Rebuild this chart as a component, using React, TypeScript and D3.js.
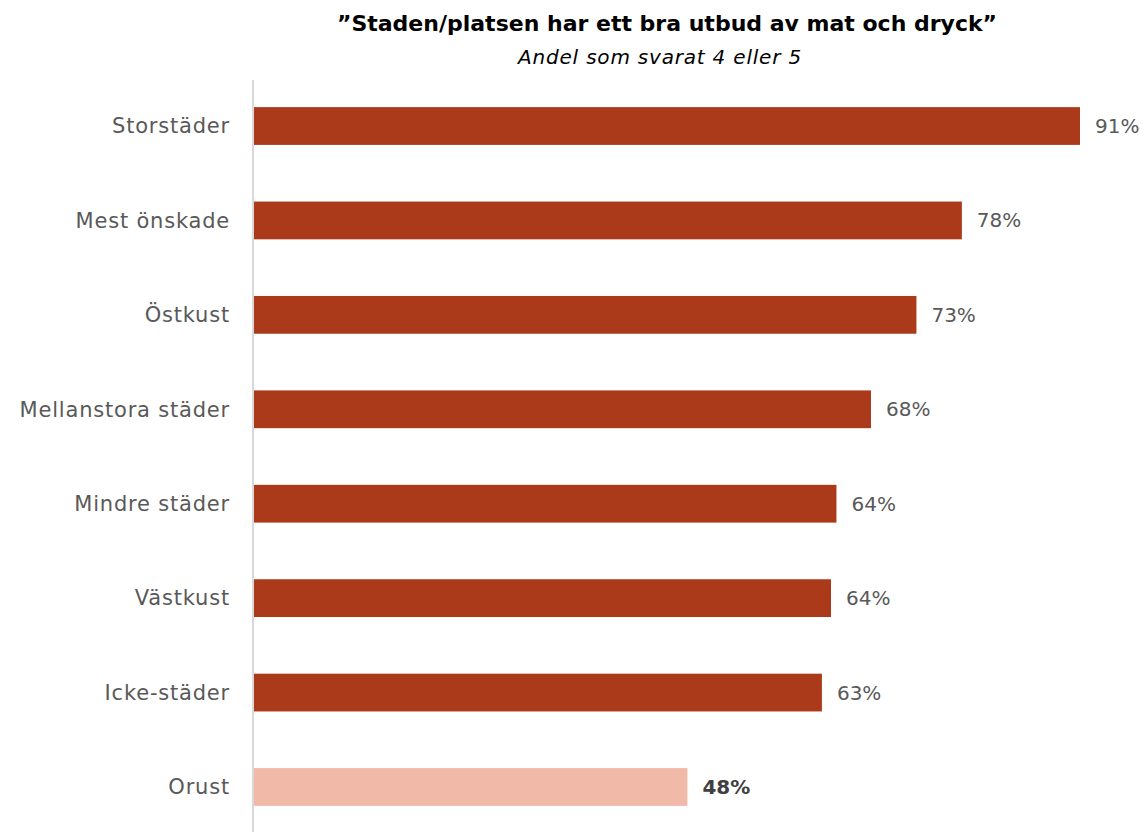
import React from "react";
import * as d3 from "d3";

const categories = ["Storstäder", "Mest önskade", "Östkust", "Mellanstora städer", "Mindre städer", "Västkust", "Icke-städer", "Orust"];
const values = [91, 78, 73, 68, 64.2, 63.6, 62.6, 47.8];
const highlight = ["Orust"];
const title = "”Staden/platsen har ett bra utbud av mat och dryck”";
const subtitle = "Andel som svarat 4 eller 5";

const W = 1143;
const H = 832;
const FONT = "'DejaVu Sans', sans-serif";

export default function App() {
  const x = d3.scaleLinear().domain([0, 100]).range([253, 253 + 908.8]);
  const y = d3
    .scaleBand<string>()
    .domain(categories)
    .range([78.8, 834.2])
    .paddingInner(0.6)
    .paddingOuter(0.3);
  const fmt = d3.format(".0f");

  return (
    <svg width={W} height={H} style={{ position: "absolute", left: 0, top: 0, background: "#fff" }}>
      <text x={667} y={31} textAnchor="middle" fontFamily={FONT} fontWeight={700} fontSize={22} fill="#000">
        {title}
      </text>
      <text x={660} y={64} textAnchor="middle" fontFamily={FONT} fontStyle="italic" fontSize={20} letterSpacing={0.8} fill="#000">
        {subtitle}
      </text>
      {categories.map((c, i) => {
        const isHi = highlight.includes(c);
        const yy = y(c)!;
        const bw = y.bandwidth();
        return (
          <g key={c}>
            <rect x={x(0)} y={yy} width={x(values[i]) - x(0)} height={bw} fill={isHi ? "#F1B9A8" : "#AB3A1A"} />
            <text
              x={230}
              y={yy + bw / 2}
              dy="0.35em"
              textAnchor="end"
              fontFamily={FONT}
              fontSize={21}
              letterSpacing={0.8}
              fill="#595959"
            >
              {c}
            </text>
            <text
              x={x(values[i]) + 15}
              y={yy + bw / 2}
              dy="0.35em"
              fontFamily={FONT}
              fontSize={20}
              fontWeight={isHi ? 700 : 400}
              fill={isHi ? "#404040" : "#595959"}
            >
              {fmt(values[i]) + "%"}
            </text>
          </g>
        );
      })}
      <line x1={x(0)} x2={x(0)} y1={80} y2={H} stroke="#D9D9D9" strokeWidth={2} />
    </svg>
  );
}
